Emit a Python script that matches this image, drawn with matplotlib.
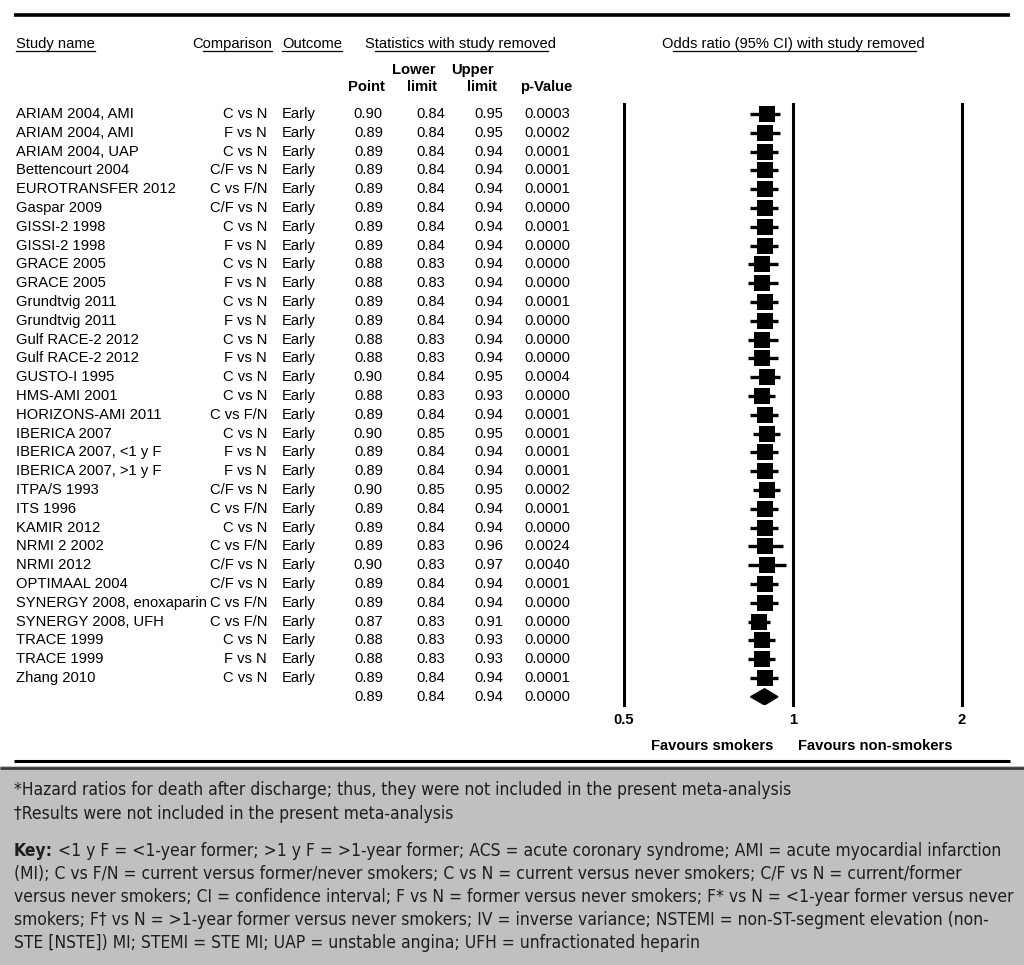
import matplotlib
matplotlib.use('Agg')
import matplotlib.pyplot as plt
from matplotlib.patches import Rectangle, Polygon
from matplotlib import font_manager

studies = ["ARIAM 2004, AMI", "ARIAM 2004, AMI", "ARIAM 2004, UAP", "Bettencourt 2004",
           "EUROTRANSFER 2012", "Gaspar 2009", "GISSI-2 1998", "GISSI-2 1998",
           "GRACE 2005", "GRACE 2005", "Grundtvig 2011", "Grundtvig 2011",
           "Gulf RACE-2 2012", "Gulf RACE-2 2012", "GUSTO-I 1995", "HMS-AMI 2001",
           "HORIZONS-AMI 2011", "IBERICA 2007", "IBERICA 2007, <1 y F", "IBERICA 2007, >1 y F",
           "ITPA/S 1993", "ITS 1996", "KAMIR 2012", "NRMI 2 2002", "NRMI 2012",
           "OPTIMAAL 2004", "SYNERGY 2008, enoxaparin", "SYNERGY 2008, UFH",
           "TRACE 1999", "TRACE 1999", "Zhang 2010"]
comparisons = ["C vs N", "F vs N", "C vs N", "C/F vs N", "C vs F/N", "C/F vs N", "C vs N",
               "F vs N", "C vs N", "F vs N", "C vs N", "F vs N", "C vs N", "F vs N",
               "C vs N", "C vs N", "C vs F/N", "C vs N", "F vs N", "F vs N", "C/F vs N",
               "C vs F/N", "C vs N", "C vs F/N", "C/F vs N", "C/F vs N", "C vs F/N",
               "C vs F/N", "C vs N", "F vs N", "C vs N"]
outcomes = ["Early"] * 31
points = [0.90, 0.89, 0.89, 0.89, 0.89, 0.89, 0.89, 0.89, 0.88, 0.88, 0.89, 0.89, 0.88, 0.88,
          0.90, 0.88, 0.89, 0.90, 0.89, 0.89, 0.90, 0.89, 0.89, 0.89, 0.90, 0.89, 0.89, 0.87,
          0.88, 0.88, 0.89]
lowers = [0.84, 0.84, 0.84, 0.84, 0.84, 0.84, 0.84, 0.84, 0.83, 0.83, 0.84, 0.84, 0.83, 0.83,
          0.84, 0.83, 0.84, 0.85, 0.84, 0.84, 0.85, 0.84, 0.84, 0.83, 0.83, 0.84, 0.84, 0.83,
          0.83, 0.83, 0.84]
uppers = [0.95, 0.95, 0.94, 0.94, 0.94, 0.94, 0.94, 0.94, 0.94, 0.94, 0.94, 0.94, 0.94, 0.94,
          0.95, 0.93, 0.94, 0.95, 0.94, 0.94, 0.95, 0.94, 0.94, 0.96, 0.97, 0.94, 0.94, 0.91,
          0.93, 0.93, 0.94]
pvalues = ["0.0003", "0.0002", "0.0001", "0.0001", "0.0001", "0.0000", "0.0001", "0.0000",
           "0.0000", "0.0000", "0.0001", "0.0000", "0.0000", "0.0000", "0.0004", "0.0000",
           "0.0001", "0.0001", "0.0001", "0.0001", "0.0002", "0.0001", "0.0000", "0.0024",
           "0.0040", "0.0001", "0.0000", "0.0000", "0.0000", "0.0000", "0.0001"]
summary_point, summary_lower, summary_upper, summary_p = 0.89, 0.84, 0.94, "0.0000"
tick_values = [0.5, 1, 2]
tick_labels = ["0.5", "1", "2"]

footnotes = ["*Hazard ratios for death after discharge; thus, they were not included in the present meta-analysis",
             "\u2020Results were not included in the present meta-analysis"]
key_lines = ["<1 y F = <1-year former; >1 y F = >1-year former; ACS = acute coronary syndrome; AMI = acute myocardial infarction",
             "(MI); C vs F/N = current versus former/never smokers; C vs N = current versus never smokers; C/F vs N = current/former",
             "versus never smokers; CI = confidence interval; F vs N = former versus never smokers; F* vs N = <1-year former versus never",
             "smokers; F\u2020 vs N = >1-year former versus never smokers; IV = inverse variance; NSTEMI = non-ST-segment elevation (non-",
             "STE [NSTE]) MI; STEMI = STE MI; UAP = unstable angina; UFH = unfractionated heparin"]

# fonts: look for a condensed / narrow face for the footnote box
def find_narrow():
    cands = [("Liberation Sans Narrow", "normal"), ("DejaVu Sans", "condensed"),
             ("Roboto Condensed", "normal"), ("Open Sans Condensed", "normal"),
             ("Noto Sans", "condensed"), ("Open Sans", "condensed"), ("Roboto", "condensed")]
    for fam, st in cands:
        try:
            fp = font_manager.FontProperties(family=fam, stretch=st)
            path = font_manager.findfont(fp, fallback_to_default=False)
            low = path.lower()
            if "narrow" in low or "condensed" in low or "cond" in low:
                return fam, st
        except Exception:
            pass
    return "Liberation Sans", "normal"

NFAM, NSTRETCH = find_narrow()
TF = ["Liberation Sans", "DejaVu Sans"]
NF = [NFAM, "DejaVu Sans"]

W, H = 1024, 965
fig = plt.figure(figsize=(W / 100, H / 100), dpi=100)
fig.patch.set_facecolor("white")
ov = fig.add_axes([0, 0, 1, 1])
ov.set_xlim(0, W)
ov.set_ylim(H, 0)
ov.axis("off")

FS = 10.6
ROW0, DY = 114.0, 18.8
n = len(studies)

def ry(i):
    return ROW0 + DY * i

# top and bottom rules
ov.plot([14, 1010], [14.5, 14.5], color="black", lw=2.6, solid_capstyle="butt")
ov.plot([14, 1010], [761, 761], color="black", lw=2.2, solid_capstyle="butt")

# gray footnote box
ov.add_patch(Rectangle((0, 766), W, H - 766, facecolor="#c0c0c0", edgecolor="none", zorder=0))
ov.plot([0, W], [767.5, 767.5], color="#3c3c3c", lw=2.0, solid_capstyle="butt")

renderer = fig.canvas.get_renderer()

def text_width(s, **kw):
    t = ov.text(0, 0, s, **kw)
    bb = t.get_window_extent(renderer=renderer)
    t.remove()
    return bb.width

def header(x, y, s, ha="left", skip_first=False, skip_last=False):
    kw = dict(fontsize=FS, family=TF)
    t = ov.text(x, y, s, ha=ha, va="center", **kw)
    bb = t.get_window_extent(renderer=renderer)
    x0, x1 = bb.x0, bb.x1
    if skip_first:
        x0 += text_width(s[0], **kw)
    if skip_last:
        x1 -= text_width(s[-1], **kw)
    ov.plot([x0, x1], [y + 7, y + 7], color="black", lw=0.9)

HY = 44
header(16, HY, "Study name")
header(192, HY, "Comparison", skip_first=True)
header(282, HY, "Outcome")
header(365, HY, "Statistics with study removed", skip_first=True, skip_last=True)
header(793, HY, "Odds ratio (95% CI) with study removed", ha="center", skip_first=True, skip_last=True)

bkw = dict(fontsize=FS, family=TF, fontweight="bold", va="center")
ov.text(385, 87, "Point", ha="right", **bkw)
ov.text(414, 70, "Lower", ha="center", **bkw)
ov.text(422, 87, "limit", ha="center", **bkw)
ov.text(472, 70, "Upper", ha="center", **bkw)
ov.text(482, 87, "limit", ha="center", **bkw)
ov.text(572, 87, "p-Value", ha="right", **bkw)

rkw = dict(fontsize=FS, family=TF, va="center")
for i in range(n):
    y = ry(i)
    ov.text(16, y, studies[i], ha="left", **rkw)
    ov.text(267, y, comparisons[i], ha="right", **rkw)
    ov.text(282, y, outcomes[i], ha="left", **rkw)
    ov.text(383, y, f"{points[i]:.2f}", ha="right", **rkw)
    ov.text(445, y, f"{lowers[i]:.2f}", ha="right", **rkw)
    ov.text(503, y, f"{uppers[i]:.2f}", ha="right", **rkw)
    ov.text(570, y, pvalues[i], ha="right", **rkw)
ys = ry(n)
ov.text(383, ys, f"{summary_point:.2f}", ha="right", **rkw)
ov.text(445, ys, f"{summary_lower:.2f}", ha="right", **rkw)
ov.text(503, ys, f"{summary_upper:.2f}", ha="right", **rkw)
ov.text(570, ys, summary_p, ha="right", **rkw)

# forest axes
PX0, PX1 = 624, 962
PY0, PY1 = 104, 705
fa = fig.add_axes([PX0 / W, 1 - PY1 / H, (PX1 - PX0) / W, (PY1 - PY0) / H])
fa.set_xscale("log")
fa.set_xlim(0.5, 2)
fa.set_ylim((PY1 - ROW0) / DY, (PY0 - ROW0) / DY)
fa.patch.set_alpha(0)
for s in fa.spines.values():
    s.set_visible(False)
fa.set_yticks([])
fa.set_xticks(tick_values)
fa.set_xticklabels(tick_labels, fontsize=FS, fontweight="bold", family=TF)
fa.xaxis.set_minor_locator(matplotlib.ticker.NullLocator())
fa.tick_params(axis="x", length=0, pad=6)
for v in tick_values:
    fa.axvline(v, color="black", lw=2.2, clip_on=False)

rows = list(range(n))
fa.hlines(rows, lowers, uppers, color="black", lw=2.4)
fa.plot(points, rows, linestyle="none", marker="s", markersize=11.2, markeredgewidth=0, color="black")
dh = 0.43
fa.add_patch(Polygon([(summary_lower, n), (summary_point, n - dh), (summary_upper, n), (summary_point, n + dh)],
                     closed=True, facecolor="black", edgecolor="black"))

ov.text(773, 746, "Favours smokers", ha="right", va="center", fontsize=FS, fontweight="bold", family=TF)
ov.text(798, 746, "Favours non-smokers", ha="left", va="center", fontsize=FS, fontweight="bold", family=TF)

# footnote text, fitted so the longest line fits the box width
nkw = dict(family=NF, fontstretch=NSTRETCH, color="#1e1e1e")
all_lines = ["Key: " + key_lines[0]] + key_lines[1:] + footnotes
wmax = max(text_width(s, fontsize=12, **nkw) for s in all_lines)
NFS = min(13.5, 12 * (998 / wmax))
ov.text(14, 790, footnotes[0], ha="left", va="center", fontsize=NFS, **nkw)
ov.text(14, 814, footnotes[1], ha="left", va="center", fontsize=NFS, **nkw)
key_y = [851, 874, 897, 920, 943]
kt = ov.text(14, key_y[0], "Key:", ha="left", va="center", fontsize=NFS, fontweight="bold", **nkw)
kw_ = kt.get_window_extent(renderer=renderer).width + text_width(" ", fontsize=NFS, **nkw)
ov.text(14 + kw_, key_y[0], key_lines[0], ha="left", va="center", fontsize=NFS, **nkw)
for y, line in zip(key_y[1:], key_lines[1:]):
    ov.text(14, y, line, ha="left", va="center", fontsize=NFS, **nkw)

fig.savefig("out.png", dpi=100)
